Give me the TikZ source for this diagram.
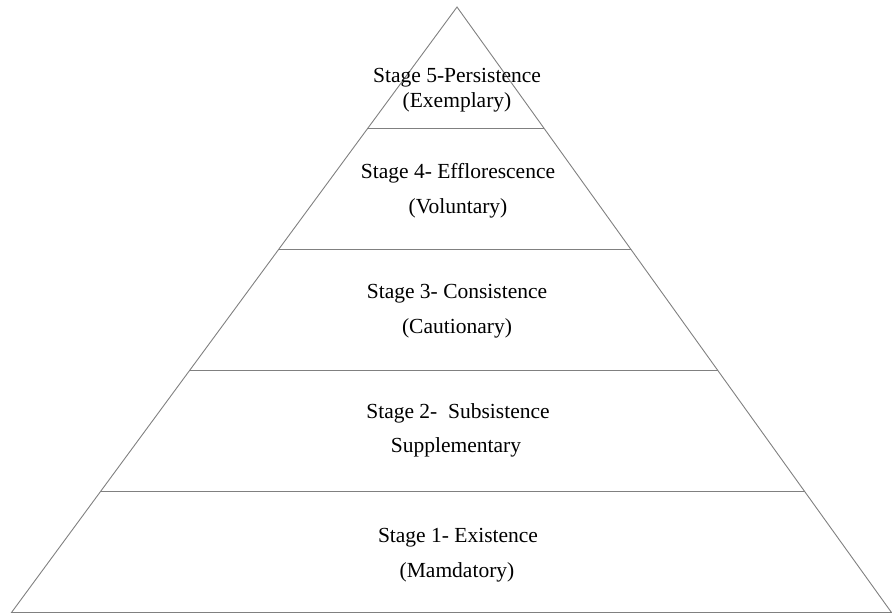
\documentclass[tikz,border=0pt]{standalone}
\usepackage{fontspec}
\setmainfont{Liberation Serif}
\usetikzlibrary{calc}

\begin{document}
\begin{tikzpicture}[x=1pt,y=-1pt,
    edge/.style={draw=black!50, line width=0.9pt},
    lbl/.style={font=\fontsize{21.5}{26}\selectfont, anchor=base, inner sep=0pt}]
  \useasboundingbox (0,0) rectangle (892,614);
  \coordinate (apex) at (457,7);
  \coordinate (bl) at (11.5,612.5);
  \coordinate (br) at (891.5,612.5);
  \draw[edge] (bl) -- (apex) -- (br) -- cycle; % pyramid
  % layer borders
  \foreach \y in {128.5,249.5,370.5,491.5}
    \draw[edge] ($(apex)!{(\y-7)/605.5}!(bl)$) -- ($(apex)!{(\y-7)/605.5}!(br)$);
  % stages
  \node[lbl] (s5a) at (457,82) {Stage 5-Persistence};
  \node[lbl] (s5b) at (457,107) {(Exemplary)};
  \node[lbl] (s4a) at (458,178) {Stage 4- Efflorescence};
  \node[lbl] (s4b) at (458,213) {(Voluntary)};
  \node[lbl] (s3a) at (457,298) {Stage 3- Consistence};
  \node[lbl] (s3b) at (457,333) {(Cautionary)};
  \node[lbl] (s2a) at (458,418) {Stage 2-\ \ Subsistence};
  \node[lbl] (s2b) at (456,452) {Supplementary};
  \node[lbl] (s1a) at (458,542) {Stage 1- Existence};
  \node[lbl] (s1b) at (457,577) {(Mamdatory)};
\end{tikzpicture}
\end{document}
